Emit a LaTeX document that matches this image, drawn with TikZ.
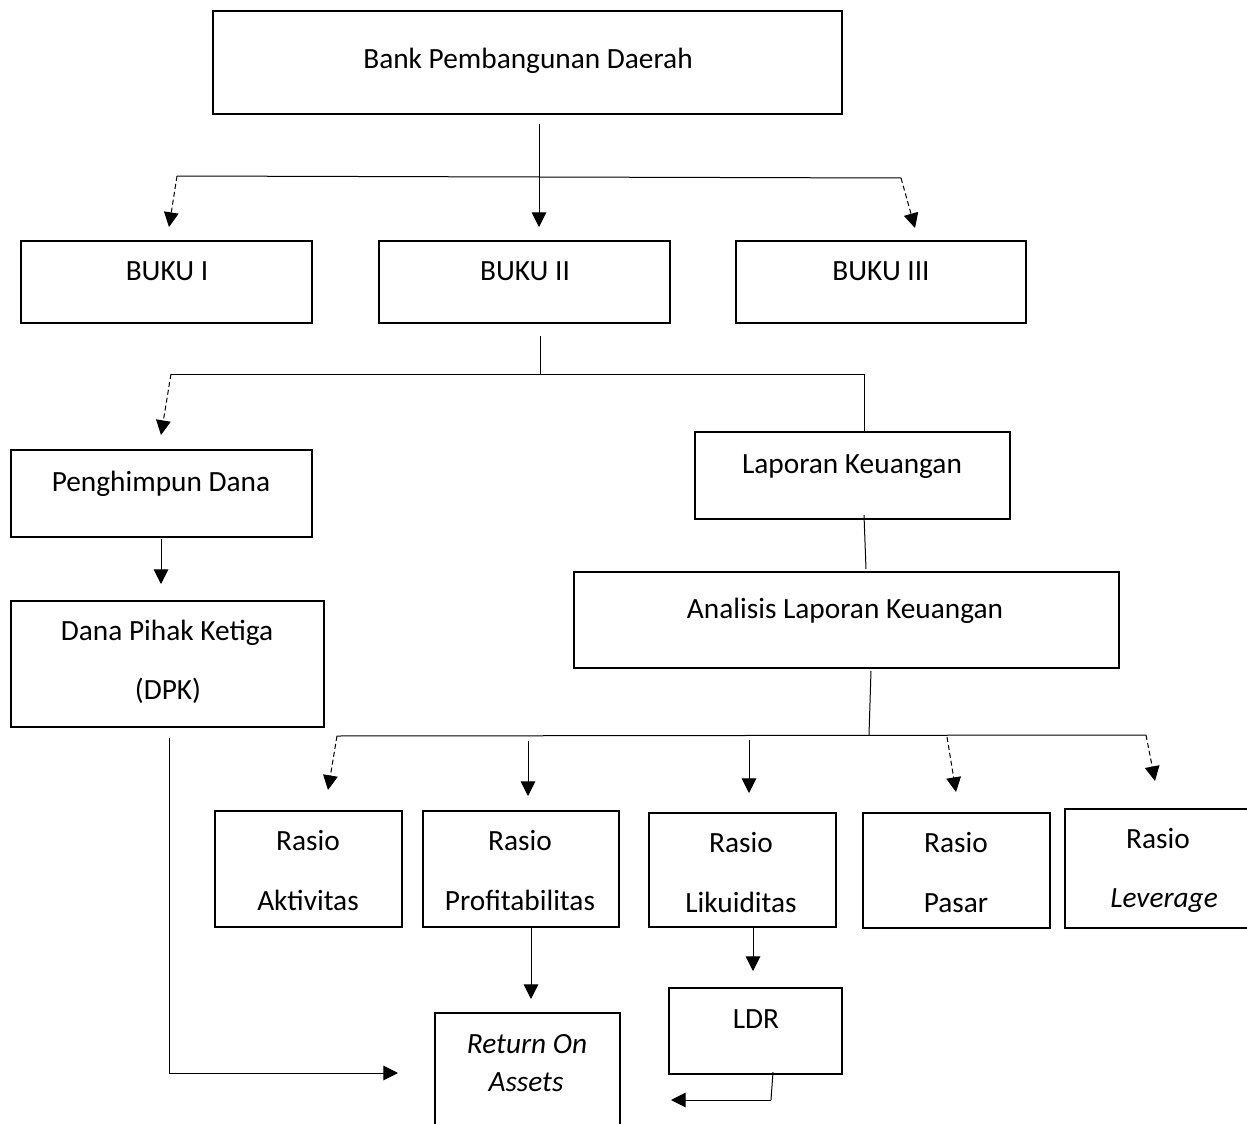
\documentclass[tikz,border=0pt]{standalone}
\usepackage{fontspec}
\setmainfont{Carlito}
\usetikzlibrary{arrows.meta,fit}

\tikzset{every picture/.style={line width=0.75pt}}
\tikzset{
  box/.style={draw, line width=1.5pt, inner sep=0pt},
  lbl/.style={anchor=base, inner sep=0.75pt, font=\fontsize{22}{26}\selectfont},
  arr/.style={-{Triangle[length=11pt,width=11pt]}},
  dasharr/.style={arr, dash pattern=on 3.75pt off 2.25pt},
}

\begin{document}
\begin{tikzpicture}[x=0.75pt,y=0.75pt,yscale=-1,xscale=1]
\clip (0,0) rectangle (1247,1124);

%Shape: Rectangle [top]
\node (bank) [box, fit={(213,11) (842,114)}] {};
%Shape: Rectangle [buku]
\node (buku1) [box, fit={(21,241) (312,323)}] {};
\node (buku2) [box, fit={(379,241) (670,323)}] {};
\node (buku3) [box, fit={(736,241) (1026,323)}] {};
%Shape: Rectangle [left branch]
\node (himpun) [box, fit={(11,450) (312,537)}] {};
\node (dpk) [box, fit={(11,601) (324,727)}] {};
%Shape: Rectangle [right branch]
\node (lapkeu) [box, fit={(695,432) (1010,519)}] {};
\node (analisis) [box, fit={(574,572) (1119,668)}] {};
%Shape: Rectangle [rasio]
\node (aktiv) [box, fit={(215,811) (402,927)}] {};
\node (profit) [box, fit={(423,811) (619,927)}] {};
\node (likuid) [box, fit={(649,813) (836,927)}] {};
\node (pasar) [box, fit={(863,813) (1050,928)}] {};
\node (lever) [box, fit={(1065,809) (1256,928)}] {};
%Shape: Rectangle [bottom]
\node (roa) [box, fit={(435,1013) (620,1135)}] {};
\node (ldr) [box, fit={(669,988) (842,1074)}] {};

% Text Node
\node (banktxt) [lbl] at (528,69) {Bank Pembangunan Daerah};
\node (buku1txt) [lbl] at (167,280) {BUKU I};
\node (buku2txt) [lbl] at (525,280) {BUKU II};
\node (buku3txt) [lbl] at (881,280) {BUKU III};
\node (himpuntxt) [lbl] at (161,491) {Penghimpun Dana};
\node (dpktxt) [lbl] at (167,640) {Dana Pihak Ketiga};
\node (dpktxtb) [lbl] at (168,699) {(DPK)};
\node (lapkeutxt) [lbl] at (852,473) {Laporan Keuangan};
\node (analisistxt) [lbl] at (845,618) {Analisis Laporan Keuangan};
\node (aktivtxt) [lbl] at (308,850) {Rasio};
\node (aktivtxtb) [lbl] at (308,910) {Aktivitas};
\node (profittxt) [lbl] at (520,850) {Rasio};
\node (profittxtb) [lbl] at (520,910) {Profitabilitas};
\node (likuidtxt) [lbl] at (741,852) {Rasio};
\node (likuidtxtb) [lbl] at (741,912) {Likuiditas};
\node (pasartxt) [lbl] at (956,852) {Rasio};
\node (pasartxtb) [lbl] at (956,912) {Pasar};
\node (levertxt) [lbl] at (1158,848) {Rasio};
\node (levertxtb) [lbl] at (1164,907) {\itshape Leverage};
\node (roatxt) [lbl] at (527,1053) {\itshape Return On};
\node (roatxtb) [lbl] at (526,1091) {\itshape Assets};
\node (ldrtxt) [lbl] at (756,1028) {LDR};

%Straight Lines [bank to buku]
\coordinate (bankout) at (539,124);
\coordinate (j1) at (539,177);
\coordinate (j1l) at (177,176);
\coordinate (j1r) at (901,178);
\coordinate (t1) at (169,227);
\coordinate (t2) at (539,227);
\coordinate (t3) at (915,228);
\draw (bankout) -- (j1);
\draw (j1l) -- (j1r);
\draw [dasharr] (j1l) -- (t1);
\draw [arr] (j1) -- (t2);
\draw [dasharr] (j1r) -- (t3);

%Straight Lines [buku II to branches]
\coordinate (b2out) at (540,336);
\coordinate (j2) at (540,374);
\coordinate (j2l) at (171,374);
\coordinate (j2r) at (864,374);
\coordinate (t4) at (161,435);
\draw (b2out) -- (j2);
\draw (j2l) -- (j2r);
\draw [dasharr] (j2l) -- (t4);
\draw (j2r) -- (j2r |- lapkeu.north);

%Straight Lines [left branch]
\coordinate (h1) at (161,539);
\coordinate (t5) at (161,584);
\draw [arr] (h1) -- (t5);

%Straight Lines [right branch]
\coordinate (l1) at (864,515);
\coordinate (l2) at (866,569);
\draw (l1) -- (l2);

%Straight Lines [analisis to rasio]
\coordinate (a1) at (871,671);
\coordinate (j3) at (869,735);
\coordinate (j3l) at (337,736);
\coordinate (j3r) at (1146,735);
\coordinate (t6) at (328,790);
\coordinate (s7) at (528,741);
\coordinate (t7) at (528,796);
\coordinate (s8) at (749,740);
\coordinate (t8) at (749,793);
\coordinate (s9) at (947,737);
\coordinate (t9) at (956,792);
\coordinate (t10) at (1155,781);
\draw (a1) -- (j3);
\draw (j3l) -- (j3r);
\draw [dasharr] (j3l) -- (t6);
\draw [arr] (s7) -- (t7);
\draw [arr] (s8) -- (t8);
\draw [dasharr] (s9) -- (t9);
\draw [dasharr] (j3r) -- (t10);

%Straight Lines [to return on assets]
\coordinate (s11) at (531,927);
\coordinate (t11) at (531,999);
\coordinate (s12) at (753,927);
\coordinate (t12) at (753,971);
\coordinate (s13) at (773,1072);
\coordinate (k13) at (771,1100);
\coordinate (t13) at (671,1100);
\coordinate (s14) at (169,738);
\coordinate (k14) at (169,1073);
\coordinate (t14) at (398,1073);
\draw [arr] (s11) -- (t11);
\draw [arr] (s12) -- (t12);
\draw (s13) -- (k13);
\draw [arr] (k13) -- (t13);
\draw [arr] (s14) -- (k14) -- (t14);

\end{tikzpicture}
\end{document}
